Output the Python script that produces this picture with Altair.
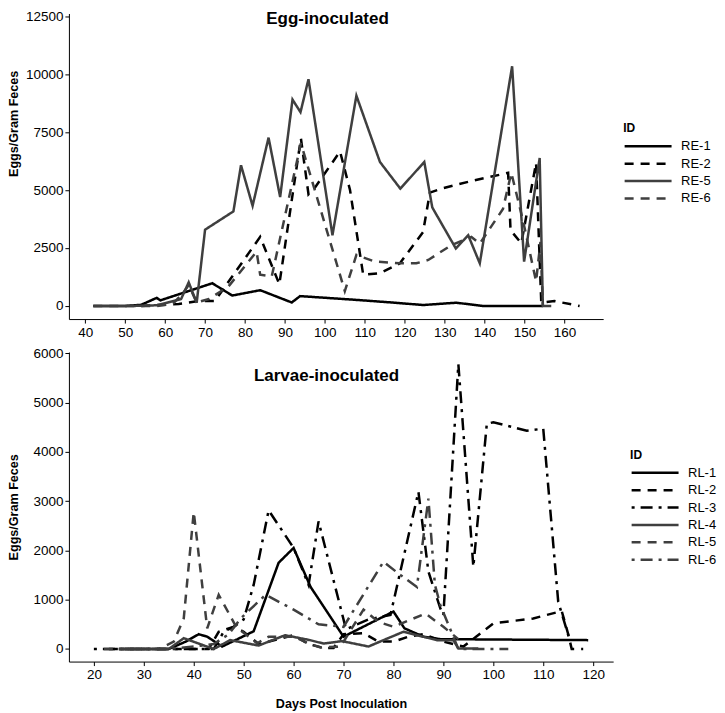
import altair as alt
import pandas as pd

FONT = "Liberation Sans"
BLACK = "#000000"
GRAY = "#3f3f3f"

# ---------------- Egg-inoculated ----------------
re_ids = ["RE-1", "RE-2", "RE-5", "RE-6"]
re1_day = [42, 50, 54, 57.9, 58.8, 71.8, 76.8, 83.8, 91.7, 93.8, 105.9, 109.6, 117.5, 124.6, 132.9, 139.6, 154.6]
re1_epg = [0, 0, 50, 350, 240, 980, 450, 680, 150, 425, 285, 240, 140, 40, 140, 0, 0]

re2_day = [54, 63.4, 67.9, 72.5, 83.8, 88.6, 94.0, 95.9, 97.5, 103.8, 106.3, 109.6, 113.8, 118.8,
           124.6, 126.3, 129.2, 136.7, 145.9, 146.5, 149.2, 152.9, 154.2, 157.5, 163.8]
re2_epg = [0, 85, 200, 220, 2980, 935, 7230, 4820, 5100, 6665, 5000, 1350, 1415, 1840,
           3190, 4890, 5060, 5390, 5740, 3270, 2700, 6170, 140, 210, 0]

re5_day = [42, 52, 58, 64, 65.9, 67.9, 70.0, 77.1, 79.0, 81.9, 85.9, 88.8, 91.9, 93.9, 95.9, 101.9,
           107.9, 113.8, 118.9, 124.9, 126.9, 132.8, 135.9, 138.8, 146.9, 149.9, 153.8, 154.6, 156.7]
re5_epg = [0, 0, 30, 300, 1020, 140, 3290, 4080, 6070, 4320, 7260, 4700, 8900, 8360, 9780, 3050,
           9070, 6210, 5060, 6210, 4250, 2480, 3050, 1840, 10340, 1910, 6380, 0, 0]

re6_day = [42, 58, 62, 64.2, 65.9, 67.9, 71, 75.9, 82.9, 83.8, 86.7, 94.0, 105.0, 107.9, 112.5,
           118.8, 122.9, 125.9, 131.7, 136.7, 138.8, 144.6, 146.7, 149.6, 152.9, 154.0, 154.6]
re6_epg = [0, 0, 100, 500, 900, 150, 300, 850, 2340, 1350, 1275, 7015, 640, 2200, 1915,
           1840, 1840, 1985, 2625, 2975, 2690, 4180, 5740, 3700, 1060, 2760, 0]

# ---------------- Larvae-inoculated ----------------
rl_ids = ["RL-1", "RL-2", "RL-3", "RL-4", "RL-5", "RL-6"]
rl1_day = [25, 35, 38.4, 41, 42.7, 45.7, 52, 57, 60, 63.4, 70, 80, 82.2, 86, 89.4, 119]
rl1_epg = [0, 0, 150, 300, 250, 50, 360, 1750, 2050, 1260, 250, 760, 420, 250, 200, 180]

rl2_day = [23, 43, 45, 48, 50, 53, 57, 60, 63, 66, 68, 70, 74, 77, 80, 83, 86, 90, 94, 100,
           108, 113.7, 115, 115.7, 118]
rl2_epg = [0, 0, 350, 450, 350, 100, 200, 280, 100, 20, 20, 300, 320, 150, 150, 250, 300, 150, 50, 520,
           620, 770, 300, 0, 0]

rl3_day = [20, 44, 46, 48, 50, 52, 55, 60, 63, 65, 70.5, 75, 79.4, 85, 87, 89.4, 90, 93, 96,
           98.7, 100, 106.7, 110, 113, 115.4]
rl3_epg = [0, 0, 350, 450, 600, 1300, 2815, 2050, 1300, 2590, 400, 600, 690, 3190, 1570, 820, 690, 5780, 1670,
           4570, 4600, 4430, 4470, 960, 150]

rl4_day = [25, 35, 38, 44, 47.3, 53, 58.3, 63.3, 66, 69.7, 75, 78, 82, 88.7, 92, 93, 97]
rl4_epg = [0, 0, 220, 0, 180, 70, 280, 180, 110, 160, 50, 180, 350, 180, 180, 10, 10]

rl5_day = [22, 33, 36, 38, 40, 42.7, 45, 48.5, 52.7, 55, 60, 63, 65.4, 69.4, 74, 77, 80, 86.4, 90, 93]
rl5_epg = [0, 0, 150, 620, 2780, 420, 1100, 450, 115, 250, 250, 115, 30, 50, 800, 550, 450, 720, 450, 200]

rl6_day = [25, 35, 40, 44, 47, 49.4, 54.4, 60, 65, 70, 78, 81.4, 84.7, 87, 88.3, 89.4, 93, 103]
rl6_epg = [0, 0, 50, 100, 300, 620, 1100, 800, 500, 450, 1770, 1500, 1260, 3050, 1300, 890, 0, 0]

top_xticks = list(range(40, 171, 10))
top_yticks = [0, 2500, 5000, 7500, 10000, 12500]
bot_xticks = list(range(20, 121, 10))
bot_yticks = [0, 1000, 2000, 3000, 4000, 5000, 6000]


def make_df(ids, days, vals):
    rows = []
    for i, d, v in zip(ids, days, vals):
        for k, (dd, vv) in enumerate(zip(d, v)):
            rows.append({"ID": i, "day": dd, "epg": vv, "k": k})
    return pd.DataFrame(rows)


top_df = make_df(re_ids, [re1_day, re2_day, re5_day, re6_day], [re1_epg, re2_epg, re5_epg, re6_epg])
bot_df = make_df(rl_ids, [rl1_day, rl2_day, rl3_day, rl4_day, rl5_day, rl6_day],
                 [rl1_epg, rl2_epg, rl3_epg, rl4_epg, rl5_epg, rl6_epg])

SOLID = [1, 0]
DASH = [9, 7]
DOTDASH = [3, 6, 12, 6]


def panel(df, ids, colors, dashes, width, height, xdom, xticks, ydom, yticks,
          title, tx, ty, xtitle, ytitle_y, lx, ly):
    leg = alt.Legend(title="ID", orient="none", legendX=lx, legendY=ly,
                     symbolType="stroke", symbolSize=2209, symbolStrokeWidth=2.5,
                     clipHeight=14, labelOffset=8,
                     labelFont=FONT, labelFontSize=13, labelColor=BLACK,
                     titleFont=FONT, titleFontSize=12, titleFontWeight="bold", titleColor=BLACK,
                     titlePadding=4, rowPadding=3.4)
    yaxis_kwargs = dict(values=yticks, title="Eggs/Gram Feces", titleX=-48, format="d")
    if ytitle_y is not None:
        yaxis_kwargs["titleY"] = ytitle_y
    lines = alt.Chart(df).mark_line(strokeWidth=2.5).encode(
        x=alt.X("day:Q", scale=alt.Scale(domain=xdom, nice=False, zero=False),
                axis=alt.Axis(values=xticks, title=xtitle, titlePadding=16, format="d")),
        y=alt.Y("epg:Q", scale=alt.Scale(domain=ydom, nice=False, zero=False),
                axis=alt.Axis(**yaxis_kwargs)),
        color=alt.Color("ID:N", scale=alt.Scale(domain=ids, range=colors), legend=leg),
        strokeDash=alt.StrokeDash("ID:N", scale=alt.Scale(domain=ids, range=dashes), legend=leg),
        order="k:Q",
    )
    t = alt.Chart(pd.DataFrame({"t": [title]})).mark_text(
        font=FONT, fontSize=17, fontWeight="bold", color=BLACK, baseline="middle", align="center"
    ).encode(text="t:N", x=alt.value(tx), y=alt.value(ty))
    return alt.layer(lines, t).properties(width=width, height=height)


top = panel(top_df, re_ids, [BLACK, BLACK, GRAY, GRAY], [SOLID, DASH, SOLID, DASH],
            535, 306, [35.9, 169.7], top_xticks, [-565, 12615], top_yticks,
            "Egg-inoculated", 259, 6, None, 110, 555, 110)

bottom = panel(bot_df, rl_ids, [BLACK, BLACK, BLACK, GRAY, GRAY, GRAY],
               [SOLID, DASH, DOTDASH, SOLID, DASH, DOTDASH],
               545, 310, [15, 124], bot_xticks, [-255, 6026], bot_yticks,
               "Larvae-inoculated", 258, 24, "Days Post Inoculation", None, 562, 98)

chart = alt.vconcat(top, bottom, spacing=7).resolve_scale(
    color="independent", strokeDash="independent", x="independent", y="independent"
).properties(padding={"left": 0, "top": 0, "right": 0, "bottom": 0}).configure_view(
    stroke=None
).configure_axis(
    grid=False, domainColor=BLACK, domainWidth=1, tickColor=BLACK, tickSize=4, tickWidth=1,
    labelColor=BLACK, labelFont=FONT, labelFontSize=13.5, labelPadding=2,
    titleFont=FONT, titleFontSize=12.6, titleFontWeight="bold", titleColor=BLACK
)

chart.save("out.html", embed_options={"renderer": "svg", "actions": False})
